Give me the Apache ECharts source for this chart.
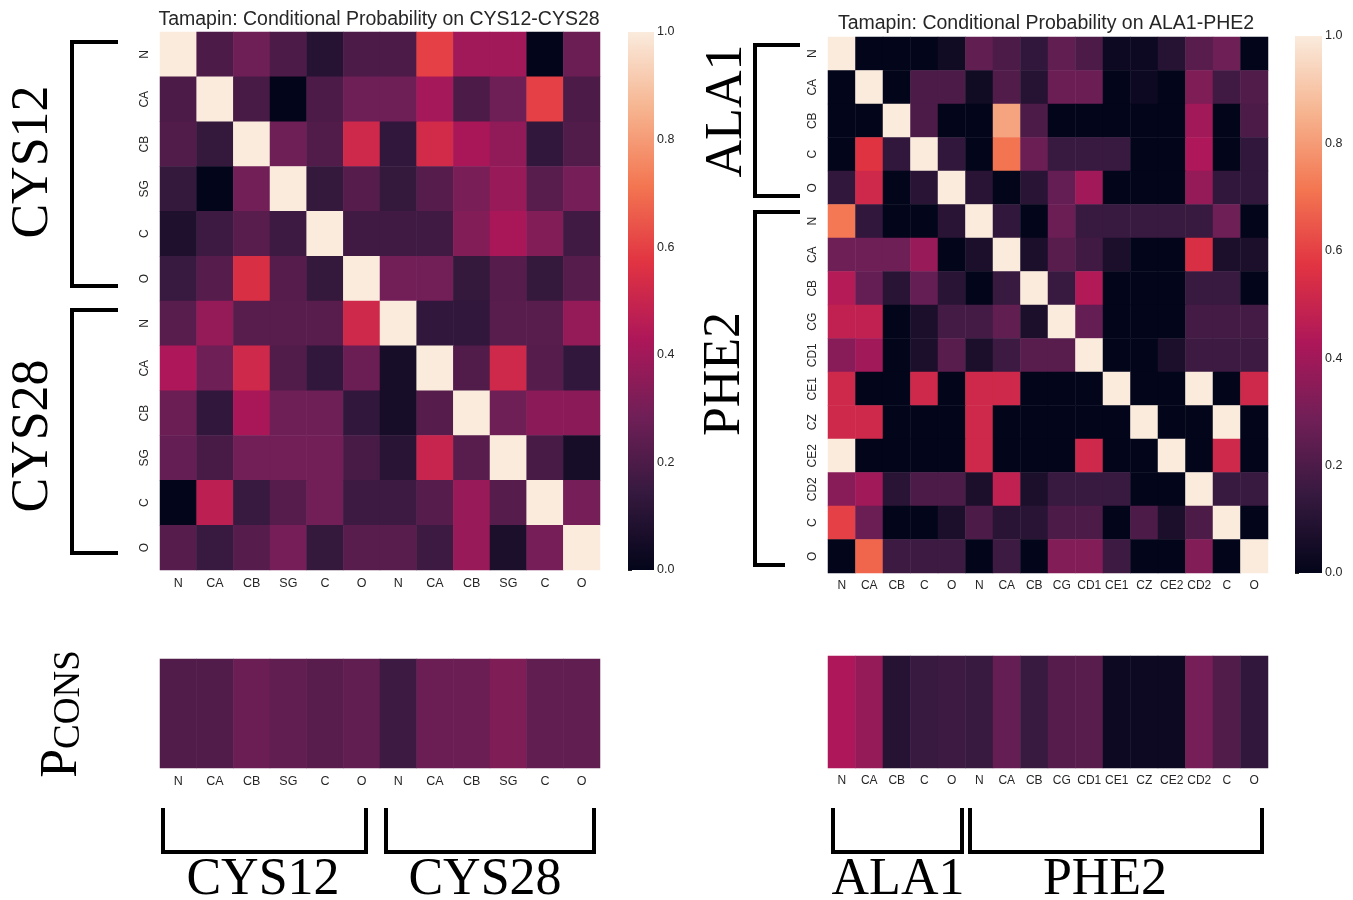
<!DOCTYPE html>
<html><head><meta charset="utf-8">
<script src="https://cdn.jsdelivr.net/npm/echarts@6/dist/echarts.min.js"></script>
<style>html,body{margin:0;padding:0;background:#fff}#c{width:1353px;height:900px}</style>
</head><body><div id="c"></div>
<script>
// ---- data ----
const leftLabels = ['N','CA','CB','SG','C','O','N','CA','CB','SG','C','O'];
const rightLabels = ['N','CA','CB','C','O','N','CA','CB','CG','CD1','CE1','CZ','CE2','CD2','C','O'];
const leftTitle = 'Tamapin: Conditional Probability on CYS12-CYS28';
const rightTitle = 'Tamapin: Conditional Probability on ALA1-PHE2';
const leftMatrix = [
[1.00,0.20,0.28,0.20,0.10,0.20,0.20,0.60,0.40,0.40,0.00,0.27],
[0.20,1.00,0.19,0.00,0.20,0.28,0.28,0.41,0.20,0.28,0.60,0.20],
[0.21,0.14,1.00,0.28,0.21,0.52,0.13,0.53,0.42,0.36,0.13,0.21],
[0.14,0.00,0.29,1.00,0.14,0.22,0.14,0.22,0.31,0.38,0.23,0.30],
[0.08,0.16,0.23,0.16,1.00,0.17,0.17,0.17,0.33,0.42,0.33,0.17],
[0.15,0.22,0.55,0.22,0.14,1.00,0.29,0.29,0.14,0.22,0.14,0.22],
[0.23,0.37,0.23,0.23,0.23,0.52,1.00,0.13,0.13,0.23,0.23,0.37],
[0.43,0.28,0.52,0.21,0.13,0.27,0.06,1.00,0.21,0.52,0.22,0.13],
[0.27,0.13,0.42,0.28,0.28,0.13,0.06,0.22,1.00,0.28,0.35,0.35],
[0.26,0.19,0.29,0.29,0.29,0.19,0.11,0.50,0.23,1.00,0.19,0.06],
[0.00,0.47,0.15,0.22,0.29,0.16,0.16,0.22,0.38,0.22,1.00,0.30],
[0.22,0.15,0.22,0.30,0.14,0.23,0.23,0.16,0.38,0.07,0.30,1.00]
];
const rightMatrix = [
[1.00,0.00,0.00,0.00,0.04,0.25,0.20,0.13,0.25,0.20,0.03,0.03,0.10,0.23,0.28,0.00],
[0.00,1.00,0.00,0.20,0.20,0.04,0.21,0.10,0.27,0.27,0.00,0.03,0.00,0.32,0.17,0.21],
[0.00,0.00,1.00,0.20,0.00,0.00,0.82,0.20,0.00,0.00,0.00,0.00,0.00,0.40,0.00,0.20],
[0.00,0.57,0.13,1.00,0.13,0.00,0.71,0.27,0.15,0.15,0.15,0.00,0.00,0.43,0.00,0.13],
[0.13,0.52,0.00,0.11,1.00,0.11,0.00,0.11,0.26,0.40,0.00,0.00,0.00,0.37,0.13,0.13],
[0.72,0.13,0.00,0.00,0.11,1.00,0.13,0.00,0.27,0.15,0.15,0.15,0.15,0.15,0.28,0.00],
[0.28,0.28,0.28,0.38,0.00,0.07,1.00,0.07,0.23,0.17,0.07,0.00,0.00,0.55,0.07,0.07],
[0.45,0.26,0.11,0.26,0.11,0.00,0.15,1.00,0.15,0.44,0.00,0.00,0.00,0.15,0.15,0.00],
[0.48,0.48,0.00,0.07,0.18,0.18,0.25,0.07,1.00,0.26,0.00,0.00,0.00,0.18,0.18,0.18],
[0.34,0.40,0.00,0.07,0.23,0.07,0.16,0.23,0.23,1.00,0.00,0.00,0.07,0.16,0.16,0.16],
[0.52,0.00,0.00,0.52,0.00,0.52,0.52,0.00,0.00,0.00,1.00,0.00,0.00,1.00,0.00,0.52],
[0.52,0.52,0.00,0.00,0.00,0.52,0.00,0.00,0.00,0.00,0.00,1.00,0.00,0.00,1.00,0.00],
[1.00,0.00,0.00,0.00,0.00,0.52,0.00,0.00,0.00,0.52,0.00,0.00,1.00,0.00,0.52,0.00],
[0.34,0.40,0.11,0.20,0.20,0.07,0.48,0.07,0.15,0.15,0.15,0.00,0.00,1.00,0.15,0.15],
[0.60,0.27,0.00,0.00,0.07,0.20,0.11,0.11,0.20,0.20,0.00,0.20,0.07,0.20,1.00,0.00],
[0.00,0.68,0.16,0.16,0.16,0.00,0.16,0.00,0.33,0.33,0.16,0.00,0.00,0.33,0.00,1.00]
];
const leftPcons = [0.21,0.21,0.27,0.25,0.23,0.25,0.16,0.27,0.27,0.32,0.25,0.25];
const rightPcons = [0.43,0.37,0.10,0.15,0.16,0.15,0.26,0.15,0.22,0.23,0.03,0.03,0.03,0.30,0.21,0.13];
const colorbarExtent = [0, 1];

// ---- styling ----
const rocket = ['#03051a','#35193e','#701f57','#ad1759','#e13342','#f37651','#f6b48f','#faebdd'];
const SANS = 'Liberation Sans, Arial, sans-serif';
const SERIF = 'Liberation Serif, Times New Roman, serif';
const TXT = '#262626';

function toCells(m){ const out=[]; m.forEach((row,r)=>row.forEach((v,c)=>out.push([c,r,v]))); return out; }
function stripCells(a){ return a.map((v,i)=>[i,0,v]); }

const chart = echarts.init(document.getElementById('c'), null, {renderer:'canvas'});

const catX = (gi, labels, margin, fs) => ({type:'category', gridIndex:gi, data:labels, axisLine:{show:false}, axisTick:{show:false},
  splitLine:{show:false}, axisLabel:{interval:0, fontSize:fs, fontFamily:SANS, color:TXT, margin:margin}});
const catY = (gi, labels, margin) => ({type:'category', gridIndex:gi, data:labels, inverse:true, axisLine:{show:false}, axisTick:{show:false},
  splitLine:{show:false}, axisLabel:{interval:0, rotate:90, fontSize:12, fontFamily:SANS, color:TXT, margin:margin}});
const cbX = gi => ({type:'value', gridIndex:gi, min:colorbarExtent[0], max:colorbarExtent[1], show:false});
const cbY = gi => ({type:'value', gridIndex:gi, min:colorbarExtent[0], max:colorbarExtent[1], interval:0.2, position:'right',
  axisLine:{show:false}, splitLine:{show:false}, axisTick:{show:true, length:4, lineStyle:{color:TXT, width:1}},
  axisLabel:{fontSize:12.5, fontFamily:SANS, color:TXT, margin:3, formatter:v=>v.toFixed(1)}});

function cbRender(params, api){
  const p0 = api.coord([api.value(0), api.value(1)]);
  const p1 = api.coord([api.value(2), api.value(3)]);
  const stops = rocket.map((c,i)=>({offset:i/(rocket.length-1), color:c}));
  return {type:'rect', shape:{x:p0[0], y:p1[1], width:p1[0]-p0[0], height:p0[1]-p1[1]},
    style:{fill:new echarts.graphic.LinearGradient(0,1,0,0,stops)}};
}

const hm = (xi, yi, data) => ({type:'heatmap', xAxisIndex:xi, yAxisIndex:yi, data:data, itemStyle:{borderWidth:0},
  emphasis:{disabled:true}, progressive:0, animation:false});

function vtext(x,y,text,size){ return {type:'text', x:x, y:y, rotation:Math.PI/2, silent:true,
  style:{text:text, fontSize:size, fontFamily:SERIF, fill:'#000', textAlign:'center', textVerticalAlign:'middle', align:'center', verticalAlign:'middle'}}; }
function htext(x,y,text,size,fam){ return {type:'text', x:x, y:y, silent:true,
  style:{text:text, fontSize:size, fontFamily:fam||SERIF, fill:fam?TXT:'#000', textAlign:'center', textVerticalAlign:'middle', align:'center', verticalAlign:'middle'}}; }
function pline(pts){ return {type:'polyline', silent:true, shape:{points:pts}, style:{stroke:'#000', lineWidth:4, fill:null, lineJoin:'miter'}}; }

const option = {
  animation:false,
  backgroundColor:'#fff',
  grid:[
    {left:160, top:32, width:440, height:538},
    {left:828, top:37, width:440, height:536},
    {left:160, top:659, width:440, height:109},
    {left:828, top:656, width:440, height:112},
    {left:628, top:32, width:26, height:538},
    {left:1295, top:36, width:27, height:537}
  ],
  xAxis:[catX(0,leftLabels,7,12.5), catX(1,rightLabels,7,12), catX(2,leftLabels,7,12.5), catX(3,rightLabels,7,12), cbX(4), cbX(5)],
  yAxis:[catY(0,leftLabels,9), catY(1,rightLabels,9),
    {type:'category', gridIndex:2, data:[''], show:false}, {type:'category', gridIndex:3, data:[''], show:false},
    cbY(4), cbY(5)],
  visualMap:{type:'continuous', min:0, max:1, show:false, seriesIndex:[0,1,2,3], inRange:{color:rocket}},
  series:[
    hm(0,0,toCells(leftMatrix)),
    hm(1,1,toCells(rightMatrix)),
    hm(2,2,stripCells(leftPcons)),
    hm(3,3,stripCells(rightPcons)),
    {type:'custom', xAxisIndex:4, yAxisIndex:4, renderItem:cbRender, data:[[colorbarExtent[0],colorbarExtent[0],colorbarExtent[1],colorbarExtent[1]]], silent:true},
    {type:'custom', xAxisIndex:5, yAxisIndex:5, renderItem:cbRender, data:[[colorbarExtent[0],colorbarExtent[0],colorbarExtent[1],colorbarExtent[1]]], silent:true}
  ],
  graphic:[
    htext(379,20,leftTitle,19.5,SANS),
    htext(1046,24,rightTitle,19.5,SANS),
    vtext(33,162,'CYS12',52),
    vtext(33,436,'CYS28',52),
    vtext(727,111,'ALA1',52),
    vtext(725,374,'PHE2',52),
    {type:'text', x:62, y:714, rotation:Math.PI/2, silent:true,
      style:{text:'{a|P}{b|CONS}', textAlign:'center', textVerticalAlign:'middle', align:'center', verticalAlign:'middle',
        rich:{a:{fontSize:52, fontFamily:SERIF, fill:'#000', color:'#000', verticalAlign:'bottom', lineHeight:52},
              b:{fontSize:37, fontFamily:SERIF, fill:'#000', color:'#000', verticalAlign:'bottom', lineHeight:52}}}},
    pline([[118,42],[72,42],[72,286],[118,286]]),
    pline([[118,310],[72,310],[72,553],[118,553]]),
    pline([[800,45],[755,45],[755,196],[800,196]]),
    pline([[800,212],[755,212],[755,565],[785,565]]),
    pline([[163,808],[163,852],[366,852],[366,808]]),
    pline([[386,808],[386,852],[594,852],[594,808]]),
    pline([[833,808],[833,852],[962,852],[962,808]]),
    pline([[970,808],[970,852],[1262,852],[1262,808]]),
    htext(263,880,'CYS12',52),
    htext(485,880,'CYS28',52),
    htext(898,880,'ALA1',52),
    htext(1105,880,'PHE2',52)
  ]
};
chart.setOption(option);
</script>
</body></html>
